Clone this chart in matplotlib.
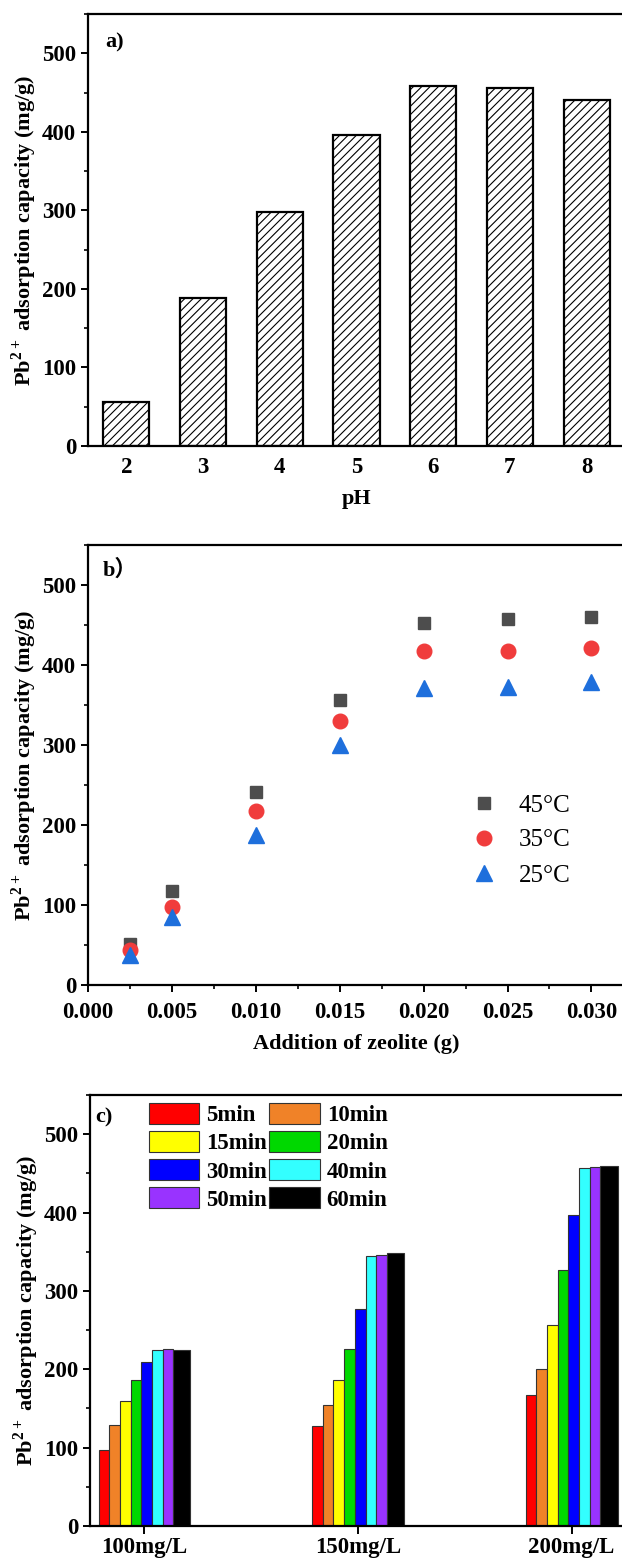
import matplotlib
matplotlib.use('Agg')
from matplotlib import pyplot as plt
from matplotlib.ticker import MultipleLocator, FormatStrFormatter

plt.rcParams['font.family'] = ['Liberation Serif', 'Noto Sans CJK SC']
plt.rcParams['font.weight'] = 'bold'
plt.rcParams['axes.labelweight'] = 'bold'
plt.rcParams['mathtext.fontset'] = 'custom'
plt.rcParams['mathtext.rm'] = 'Liberation Serif:bold'
plt.rcParams['mathtext.bf'] = 'Liberation Serif:bold'
plt.rcParams['hatch.color'] = '#333333'
plt.rcParams['hatch.linewidth'] = 0.8

# a) pH
pH = [2, 3, 4, 5, 6, 7, 8]
pH_capacity = [56, 188, 298, 396, 458, 456, 440]

# b) zeolite dosage at three temperatures
zeolite = [0.0025, 0.005, 0.010, 0.015, 0.020, 0.025, 0.030]
cap_45 = [51, 117, 241, 356, 453, 458, 460]
cap_35 = [44, 97, 217, 330, 417, 418, 421]
cap_25 = [38, 85, 188, 300, 371, 373, 379]

# c) contact time at three initial concentrations
concs = ['100mg/L', '150mg/L', '200mg/L']
times = ['5min', '10min', '15min', '20min', '30min', '40min', '50min', '60min']
time_caps = [
    [97, 127, 167],
    [129, 155, 200],
    [159, 186, 257],
    [186, 226, 327],
    [209, 277, 397],
    [224, 344, 457],
    [226, 346, 458],
    [225, 348, 459],
]
time_colors = ['#FF0000', '#F08228', '#FFFF00', '#00D800',
               '#0000FF', '#33FFFF', '#9933FF', '#000000']
bar_widths = [0.05, 0.05, 0.05, 0.05, 0.05, 0.05, 0.05, 0.08]

W, H = 622, 1562
fig = plt.figure(figsize=(W / 100, H / 100), dpi=100)

def box(left, top, right, bottom):
    return [left / W, 1 - bottom / H, (right - left) / W, (bottom - top) / H]

ylab = r'Pb$^{\mathbf{2+}}$ adsorption capacity (mg/g)'
tick_fs = 16.5
lab_fs = 16

def style(ax):
    for s in ax.spines.values():
        s.set_linewidth(1.6)
    ax.spines['right'].set_visible(False)
    ax.tick_params(which='major', direction='out', length=5, width=1.4, labelsize=tick_fs)
    ax.tick_params(which='minor', direction='out', length=3, width=1.2)
    ax.set_ylim(0, 550)
    ax.yaxis.set_major_locator(MultipleLocator(100))
    ax.yaxis.set_minor_locator(MultipleLocator(50))

# ---- a)
ax1 = fig.add_axes(box(88, 14, 625, 446))
ax1.bar(pH, pH_capacity, width=0.6, color='white', edgecolor='black',
        linewidth=1.6, hatch='////')
style(ax1)
ax1.set_xlim(1.5, 8.5)
ax1.set_xticks(pH)
ax1.tick_params(axis='x', length=0, pad=8)
ax1.set_xlabel('pH', fontsize=lab_fs, labelpad=8)
ax1.set_ylabel(ylab, fontsize=lab_fs, labelpad=2)
ax1.text(0.032, 0.933, 'a)', transform=ax1.transAxes, fontsize=lab_fs,
         ha='left', va='center')

# ---- b)
ax2 = fig.add_axes(box(88, 545, 625, 985))
ax2.plot(zeolite, cap_45, 's', color='#4D4D4D', ms=9, label='45°C')
ax2.plot(zeolite, cap_35, 'o', color='#F03C3C', ms=10.5, label='35°C')
ax2.plot(zeolite, cap_25, '^', color='#1E6FDC', ms=11.5, label='25°C')
style(ax2)
ax2.set_xlim(0, 0.032)
ax2.xaxis.set_major_locator(MultipleLocator(0.005))
ax2.xaxis.set_minor_locator(MultipleLocator(0.0025))
ax2.xaxis.set_major_formatter(FormatStrFormatter('%.3f'))
ax2.tick_params(axis='x', which='major', pad=7)
ax2.set_xlabel('Addition of zeolite (g)', fontsize=lab_fs, labelpad=8)
ax2.set_ylabel(ylab, fontsize=lab_fs, labelpad=2)
ax2.text(0.028, 0.943, 'b）', transform=ax2.transAxes, fontsize=lab_fs,
         ha='left', va='center')
ax2.legend(loc='upper left', bbox_to_anchor=(465 / W, 1 - 794 / H),
           bbox_transform=fig.transFigure, frameon=False, numpoints=1,
           handlelength=1.5, handletextpad=0.65, labelspacing=0.5,
           borderpad=0, borderaxespad=0,
           prop={'size': 18, 'weight': 'normal'})

# ---- c)
ax3 = fig.add_axes(box(90, 1095, 625, 1526))
group_x = list(range(len(concs)))
start = -sum(bar_widths) / 2
handles = []
for i, (label, caps) in enumerate(zip(times, time_caps)):
    off = start + sum(bar_widths[:i])
    b = ax3.bar([x + off for x in group_x], caps, width=bar_widths[i],
                align='edge', color=time_colors[i], edgecolor='#333333',
                linewidth=0.8, label=label)
    handles.append(b)
style(ax3)
ax3.set_xlim(-0.255, 2.25)
ax3.set_xticks(group_x)
ax3.set_xticklabels(concs)
ax3.tick_params(axis='x', length=6, pad=2)
ax3.set_ylabel(ylab, fontsize=lab_fs, labelpad=2)
ax3.text(0.01, 0.947, 'c)', transform=ax3.transAxes, fontsize=lab_fs,
         ha='left', va='center')
order = handles[::2] + handles[1::2]
ax3.legend(order, [h.get_label() for h in order], ncol=2,
           loc='upper left', bbox_to_anchor=(149 / W, 1 - 1103 / H),
           bbox_transform=fig.transFigure, frameon=False,
           handlelength=2.2, handleheight=1.05, handletextpad=0.3,
           labelspacing=0.2, columnspacing=0.1,
           borderpad=0, borderaxespad=0, prop={'size': 16.5})

fig.savefig('out.png', dpi=100)
